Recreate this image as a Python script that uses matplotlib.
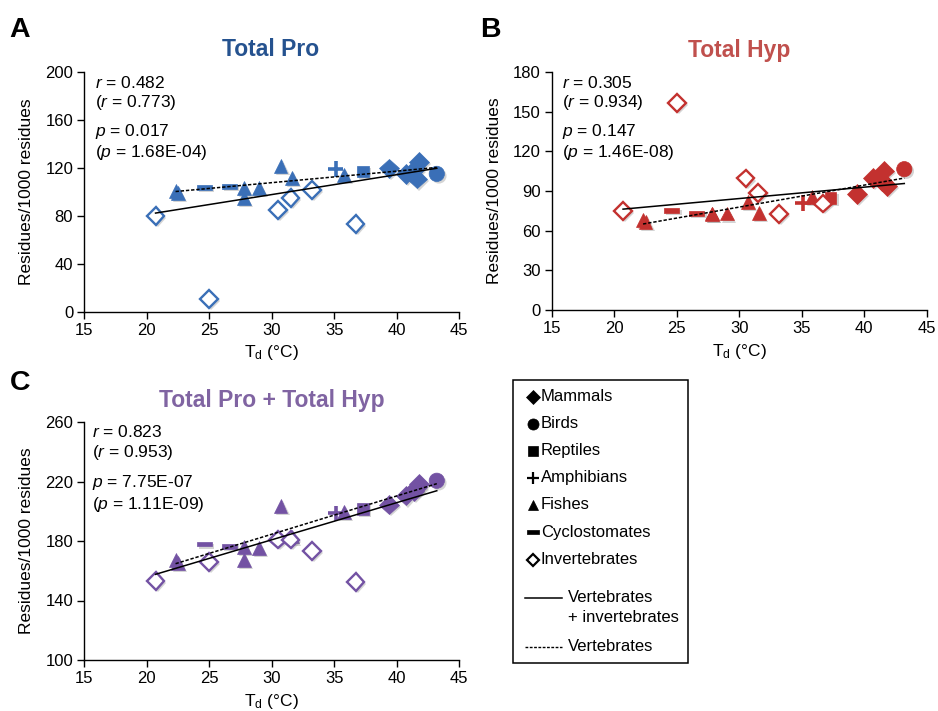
import numpy as np
import matplotlib.pyplot as plt
import matplotlib.patheffects as pe
from matplotlib.patches import Rectangle

plt.rcParams['font.family'] = ['Liberation Sans', 'DejaVu Sans']
plt.rcParams['mathtext.fontset'] = 'custom'
plt.rcParams['mathtext.rm'] = 'Liberation Sans'
plt.rcParams['mathtext.it'] = 'Liberation Sans:italic'

W, H = 938, 711

# ---------------------------------------------------------------
# Data: Td (°C) and residues/1000 residues
# ---------------------------------------------------------------
mammals_x = [39.4, 40.7, 41.4, 41.6, 41.8]
mammals_pro = [119.5, 115, 118, 111, 125]
mammals_hyp = [87.5, 100, 97.5, 105.5, 94]
mammals_sum = [204.5, 210.5, 213.5, 216, 218.5]

birds_x = [43.2]
birds_pro = [115]
birds_hyp = [106.5]
birds_sum = [220.5]

reptiles_x = [37.3]
reptiles_pro = [117]
reptiles_hyp = [85]
reptiles_sum = [201.5]

amphibians_x = [35.1]
amphibians_pro = [119]
amphibians_hyp = [81]
amphibians_sum = [198.5]

fishes_x = [22.3, 22.5, 27.8, 27.8, 29.0, 30.7, 31.6, 35.8]
fishes_pro = [100.5, 99, 103, 94.5, 103.5, 121.5, 111.5, 114]
fishes_hyp = [68, 66.5, 73, 72.5, 73, 82, 73.5, 85.5]
fishes_sum = [167, 165, 176, 167, 175.5, 203.5, 183, 199.5]

cyclo_x = [24.6, 26.6]
cyclo_pro = [103.5, 104.5]
cyclo_hyp = [75.5, 73]
cyclo_sum = [178, 176.5]

invert_x = [20.7, 25.0, 30.5, 31.5, 33.2, 36.7]
invert_pro = [80, 10.5, 85, 95, 101.5, 73]
invert_hyp = [75, 156.5, 99.5, 88.5, 72.5, 80.5]
invert_sum = [153, 166, 181, 181, 173.5, 152.5]

group_names = ['Mammals', 'Birds', 'Reptiles', 'Amphibians', 'Fishes',
               'Cyclostomates', 'Invertebrates']

# ---------------------------------------------------------------
# Styles
# ---------------------------------------------------------------
DASH = [(-1, -0.32), (1, -0.32), (1, 0.32), (-1, 0.32), (-1, -0.32)]
# marker, size, filled, vertebrate
styles = {
    'Mammals':       ('D', 10, True, True),
    'Birds':         ('o', 11, True, True),
    'Reptiles':      ('s', 8.5, True, True),
    'Amphibians':    ('+', 11, True, True),
    'Fishes':        ('^', 10, True, True),
    'Cyclostomates': (DASH, 11, True, True),
    'Invertebrates': ('D', 9, False, False),
}

xs = {'Mammals': mammals_x, 'Birds': birds_x, 'Reptiles': reptiles_x,
      'Amphibians': amphibians_x, 'Fishes': fishes_x,
      'Cyclostomates': cyclo_x, 'Invertebrates': invert_x}
ys_pro = {'Mammals': mammals_pro, 'Birds': birds_pro, 'Reptiles': reptiles_pro,
          'Amphibians': amphibians_pro, 'Fishes': fishes_pro,
          'Cyclostomates': cyclo_pro, 'Invertebrates': invert_pro}
ys_hyp = {'Mammals': mammals_hyp, 'Birds': birds_hyp, 'Reptiles': reptiles_hyp,
          'Amphibians': amphibians_hyp, 'Fishes': fishes_hyp,
          'Cyclostomates': cyclo_hyp, 'Invertebrates': invert_hyp}
ys_sum = {'Mammals': mammals_sum, 'Birds': birds_sum, 'Reptiles': reptiles_sum,
          'Amphibians': amphibians_sum, 'Fishes': fishes_sum,
          'Cyclostomates': cyclo_sum, 'Invertebrates': invert_sum}

shadow = [pe.SimplePatchShadow(offset=(1.5, -1.5), shadow_rgbFace='0.45', alpha=0.3),
          pe.Normal()]

fig = plt.figure(figsize=(W / 100, H / 100), dpi=100)


def fig_txt(x, y, s, **kw):
    fig.text(x / W, 1 - y / H, s, **kw)


def draw_panel(rect, ydata, color, ylim, yticks):
    ax = fig.add_axes(rect)
    allx, ally, vx, vy = [], [], [], []
    for name in group_names:
        marker, ms, filled, vert = styles[name]
        x, y = xs[name], ydata[name]
        ax.plot(x, y, ls='none', marker=marker, ms=ms,
                mfc=color if filled else 'white', mec=color,
                mew=2.6 if name == 'Amphibians' else (1.7 if not filled else 0.5),
                path_effects=shadow, zorder=3, clip_on=False)
        allx += x
        ally += y
        if vert:
            vx += x
            vy += y
    # regression lines: all species (solid) and vertebrates only (dashed)
    for px, py, ls in [(allx, ally, '-'), (vx, vy, (0, (2.2, 1.2)))]:
        coef = np.polyfit(px, py, 1)
        lx = np.array([min(px), max(px)])
        ax.plot(lx, np.polyval(coef, lx), color='black', ls=ls, lw=1.1, zorder=4)

    ax.set_xlim(15, 45)
    ax.set_xticks(range(15, 50, 5))
    ax.set_ylim(*ylim)
    ax.set_yticks(yticks)
    for s in ['top', 'right']:
        ax.spines[s].set_visible(False)
    for s in ['left', 'bottom']:
        ax.spines[s].set_linewidth(1.0)
    ax.tick_params(direction='out', length=5, width=1, labelsize=12, pad=3)
    ax.set_xlabel(r'$\mathregular{T_d}$ (°C)', fontsize=12.5, labelpad=4)
    ax.set_ylabel('Residues/1000 residues', fontsize=12.5, labelpad=8)
    return ax


# Panel positions (figure fractions)
axA = draw_panel([84.3 / W, 1 - 311.7 / H, 375 / W, 239.7 / H], ys_pro,
                 '#3A6FB7', (0, 200), range(0, 201, 40))
axB = draw_panel([551.8 / W, 1 - 310 / H, 375 / W, 238 / H], ys_hyp,
                 '#C3312F', (0, 180), range(0, 181, 30))
axC = draw_panel([84.3 / W, 1 - 660 / H, 375 / W, 238 / H], ys_sum,
                 '#7352A3', (100, 260), range(100, 261, 40))

# Panel letters and titles
for (x, y, s) in [(9, 30, 'A'), (480, 30, 'B'), (10, 383, 'C')]:
    fig_txt(x, y, s, fontsize=20.5, fontweight='bold', ha='left', va='center')
fig_txt(271, 50, 'Total Pro', fontsize=16.5, fontweight='bold', color='#25528F',
        ha='center', va='center')
fig_txt(739, 50, 'Total Hyp', fontsize=16.5, fontweight='bold', color='#C0504D',
        ha='center', va='center')
fig_txt(272, 401, 'Total Pro + Total Hyp', fontsize=16.5, fontweight='bold',
        color='#8064A2', ha='center', va='center')

# Statistics
stats = [
    (95, [82.7, 103, 131.7, 153],
     [r'$\it{r}$ = 0.482', r'($\it{r}$ = 0.773)', r'$\it{p}$ = 0.017',
      r'($\it{p}$ = 1.68E-04)']),
    (562, [82.7, 103, 131.7, 152],
     [r'$\it{r}$ = 0.305', r'($\it{r}$ = 0.934)', r'$\it{p}$ = 0.147',
      r'($\it{p}$ = 1.46E-08)']),
    (92, [431.7, 453, 483, 505],
     [r'$\it{r}$ = 0.823', r'($\it{r}$ = 0.953)', r'$\it{p}$ = 7.75E-07',
      r'($\it{p}$ = 1.11E-09)']),
]
for x, yy, lines in stats:
    for y, s in zip(yy, lines):
        fig_txt(x, y, s, fontsize=12.5, ha='left', va='center')

# Legend box drawn in pixel coordinates
lg = fig.add_axes([0, 0, 1, 1])
lg.set_xlim(0, W)
lg.set_ylim(H, 0)
lg.axis('off')
lg.patch.set_visible(False)
lg.add_patch(Rectangle((512.7, 380), 175.6, 283.3, fill=False, ec='black', lw=1.1))
leg_y = [396.7, 423.5, 450.5, 477.5, 504.5, 532, 559.5]
leg_ms = {'Mammals': 7, 'Birds': 8, 'Reptiles': 6.5, 'Amphibians': 8,
          'Fishes': 7.5, 'Cyclostomates': 8, 'Invertebrates': 6.5}
for name, y in zip(group_names, leg_y):
    marker, ms, filled, vert = styles[name]
    lg.plot([533], [y], ls='none', marker=marker, ms=leg_ms[name],
            mfc='black' if filled else 'white', mec='black',
            mew=1.6 if name in ('Amphibians', 'Invertebrates') else 0.5)
    lg.text(541, y, name, fontsize=12, ha='left', va='center')
lg.plot([525, 561.5], [598, 598], color='black', lw=1.1)
lg.text(568, 598, 'Vertebrates', fontsize=12, ha='left', va='center')
lg.text(568, 618, '+ invertebrates', fontsize=12, ha='left', va='center')
lg.plot([525, 561.5], [646.5, 646.5], color='black', lw=1.0, ls=(0, (2, 1.1)))
lg.text(568, 646.5, 'Vertebrates', fontsize=12, ha='left', va='center')

fig.savefig('out.png', dpi=100, facecolor='white')
